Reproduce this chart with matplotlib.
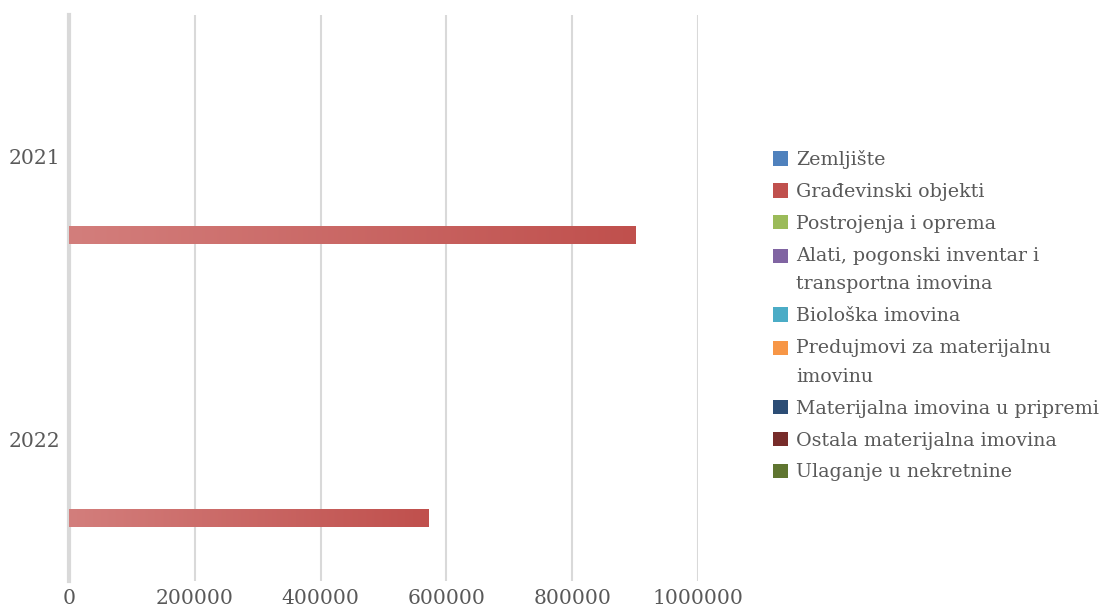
import matplotlib
matplotlib.use("Agg")
import matplotlib.pyplot as plt
import numpy as np
from matplotlib.colors import LinearSegmentedColormap
from matplotlib.patches import Patch, Rectangle
from matplotlib.legend_handler import HandlerPatch

categories = ["2021", "2022"]
series_names = [
    "Zemljište",
    "Građevinski objekti",
    "Postrojenja i oprema",
    "Alati, pogonski inventar i\ntransportna imovina",
    "Biološka imovina",
    "Predujmovi za materijalnu\nimovinu",
    "Materijalna imovina u pripremi",
    "Ostala materijalna imovina",
    "Ulaganje u nekretnine",
]
values = [
    [0, 0],
    [901000, 571000],
    [0, 0],
    [0, 0],
    [0, 0],
    [0, 0],
    [0, 0],
    [0, 0],
    [0, 0],
]
colors_dark = ["#4F81BD", "#C0504D", "#9BBB59", "#8064A2", "#4BACC6",
               "#F79646", "#2C4D75", "#772C2A", "#5F7530"]
colors_light = ["#7BA0D4", "#D37E7C", "#B4CF7E", "#A08AC0", "#7CC8DA",
                "#F9B173", "#4E6F98", "#9A5250", "#7F9550"]
xticks = [0, 200000, 400000, 600000, 800000, 1000000]

W, H = 1101, 610
fig = plt.figure(figsize=(W / 100, H / 100), dpi=100)
ax = fig.add_axes([69 / W, 1 - 581 / H, (698 - 69) / W, (581 - 15) / H])

txt = "#595959"
font = "DejaVu Serif"

n = len(series_names)
step = 0.093
bh = 0.062
y = np.arange(len(categories))
for i, (name, vals) in enumerate(zip(series_names, values)):
    pos = y + (n // 2 - i) * step
    bars = ax.barh(pos, vals, height=bh, color=colors_dark[i], zorder=3)
    cmap = LinearSegmentedColormap.from_list("g%d" % i, [colors_light[i], colors_dark[i]])
    for b in bars:
        w = b.get_width()
        if w > 0:
            x0, y0, hh = b.get_x(), b.get_y(), b.get_height()
            ax.imshow(np.linspace(0, 1, 256).reshape(1, -1), cmap=cmap,
                      extent=[x0, x0 + w, y0 + hh, y0], aspect="auto",
                      interpolation="bilinear", zorder=4)
            b.set_visible(False)

ax.set_xlim(0, 1000000)
ax.set_ylim(len(categories) - 0.5, -0.5)
ax.set_xticks(xticks)
ax.set_xticklabels([str(v) for v in xticks])
ax.set_yticks(y)
ax.set_yticklabels(categories)
ax.xaxis.grid(True, color="#D9D9D9", linewidth=1.5, zorder=0)
ax.set_axisbelow(True)
for s in ["top", "right", "bottom"]:
    ax.spines[s].set_visible(False)
ax.spines["left"].set_color("#D9D9D9")
ax.spines["left"].set_linewidth(3)
ax.tick_params(axis="both", length=0, labelsize=14.6, labelcolor=txt)
ax.tick_params(axis="x", pad=6)
ax.tick_params(axis="y", pad=6)
for lab in ax.get_xticklabels() + ax.get_yticklabels():
    lab.set_fontfamily(font)


class ShiftedPatchHandler(HandlerPatch):
    def __init__(self, dy, **kw):
        super().__init__(**kw)
        self.dy = dy

    def create_artists(self, legend, orig_handle, xdescent, ydescent,
                       width, height, fontsize, trans):
        p = Rectangle(xy=(-xdescent, -ydescent + self.dy), width=width, height=height)
        self.update_prop(p, orig_handle, legend)
        p.set_transform(trans)
        return [p]


handles = [Patch(facecolor=colors_dark[i], edgecolor="none") for i in range(n)]
hmap = {}
for i, name in enumerate(series_names):
    if "\n" in name:
        hmap[handles[i]] = ShiftedPatchHandler(10.5)
leg = fig.legend(handles, series_names, loc="upper left",
                 bbox_to_anchor=(773 / W, 1 - 150 / H), frameon=False,
                 prop={"family": font, "size": 13.7}, handlelength=0.8,
                 handleheight=0.8, handletextpad=0.4, labelspacing=0.73,
                 borderaxespad=0, borderpad=0, handler_map=hmap)
for t in leg.get_texts():
    t.set_color(txt)
    t.set_linespacing(1.76)

fig.savefig("out.png", dpi=100)
